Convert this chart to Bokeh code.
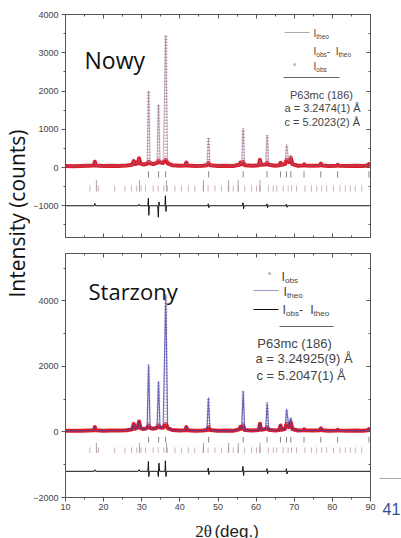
import math
from bokeh.plotting import figure
from bokeh.layouts import row, column
from bokeh.models import Label, FixedTicker, LinearAxis, Range1d
from bokeh.embed import file_html
from bokeh.resources import INLINE

# ---------------- data ----------------
x_ticks = [10, 20, 30, 40, 50, 60, 70, 80, 90]
x_minor = [15, 25, 35, 45, 55, 65, 75, 85]
top_y_ticks = [-1000, 0, 1000, 2000, 3000, 4000]
top_y_minor = [-1500, -500, 500, 1500, 2500, 3500]
bot_y_ticks = [-2000, 0, 2000, 4000]
bot_y_minor = [-1000, 1000, 3000, 5000]

# "Nowy": observed profile (background + weak reflections)
new_obs_x = [10, 12, 14, 16, 17.4, 17.7, 18.0, 20, 22, 24, 26, 27.5, 27.9, 28.3, 28.9, 29.3, 29.7,
             30.5, 31.4, 31.8, 32.2, 33.0, 34.0, 34.4, 34.8, 35.6, 36.3, 36.8, 38, 40, 41.4, 41.7, 42.0,
             44, 46, 47.1, 47.5, 47.9, 50, 52, 54, 55.6, 55.9, 56.2, 56.6, 57.0, 59, 60.7, 61.0, 61.3,
             62.5, 62.9, 63.3, 65, 66.1, 66.4, 66.7, 67.6, 68.0, 68.6, 69.1, 69.5, 71, 72.3, 72.6, 72.9,
             75, 76.7, 77.0, 77.3, 79, 81.1, 81.4, 81.7, 84, 86, 88, 89.3, 89.6, 90]
new_obs_y = [40, 35, 40, 45, 50, 150, 50, 40, 45, 40, 50, 70, 170, 90, 110, 240, 100,
             80, 100, 150, 110, 90, 120, 180, 130, 120, 200, 110, 60, 45, 50, 130, 50,
             40, 45, 60, 120, 60, 40, 45, 40, 70, 130, 90, 150, 60, 45, 60, 200, 70,
             80, 130, 70, 45, 60, 120, 70, 90, 200, 140, 250, 90, 45, 50, 80, 50,
             45, 55, 100, 55, 40, 45, 70, 45, 40, 45, 40, 50, 90, 50]
# strong reflections: position, foot, top
new_peak_x = [31.8, 34.4, 36.3, 47.5, 56.6, 62.9, 68.0, 69.1]
new_peak_base = [150, 180, 200, 120, 150, 130, 200, 250]
new_peak_top = [2000, 1650, 3450, 770, 1020, 850, 600, 330]
# difference curve
new_diff_x = [10, 17.5, 17.7, 17.9, 29.1, 29.3, 29.5, 31.6, 31.75, 31.85, 32.0, 34.2, 34.35, 34.5, 34.7,
              36.1, 36.2, 36.35, 36.5, 47.3, 47.45, 47.6, 47.75, 56.4, 56.55, 56.7, 56.85,
              62.7, 62.85, 63.0, 63.15, 67.8, 67.95, 68.1, 68.25, 90]
new_diff_y = [-1000, -1000, -940, -1000, -1000, -960, -1000, -1000, -800, -1250, -1000, -1000, -1300, -900, -1000,
              -1000, -740, -1150, -1000, -1000, -950, -1050, -1000, -1000, -920, -1080, -1000,
              -1000, -950, -1050, -1000, -1000, -960, -1040, -1000, -1000]

# "Starzony"
old_obs_x = [10, 12, 14, 16, 17.4, 17.7, 18.0, 20, 22, 24, 26, 27.5, 27.9, 28.3, 28.9, 29.3, 29.7,
             30.5, 31.4, 31.8, 32.2, 33.0, 34.0, 34.4, 34.8, 35.6, 36.3, 36.8, 38, 40, 41.4, 41.7, 42.0,
             44, 46, 47.1, 47.5, 47.9, 50, 52, 54, 55.6, 55.9, 56.2, 56.6, 57.0, 59, 60.7, 61.0, 61.3,
             62.5, 62.9, 63.3, 65, 66.1, 66.4, 66.7, 67.6, 68.0, 68.6, 69.1, 69.5, 71, 72.3, 72.6, 72.9,
             75, 76.7, 77.0, 77.3, 79, 81.1, 81.4, 81.7, 84, 86, 88, 89.3, 89.6, 90]
old_obs_y = [40, 35, 40, 45, 50, 150, 50, 40, 45, 45, 55, 80, 250, 100, 130, 320, 110,
             90, 120, 200, 120, 100, 130, 200, 140, 130, 250, 120, 60, 45, 55, 150, 55,
             40, 45, 60, 150, 60, 40, 45, 40, 80, 160, 100, 200, 60, 45, 60, 250, 70,
             90, 150, 70, 45, 60, 200, 70, 100, 250, 150, 300, 90, 45, 50, 80, 50,
             45, 55, 110, 55, 40, 45, 70, 45, 40, 45, 40, 50, 90, 50]
old_peak_x = [31.8, 34.4, 36.3, 47.5, 56.6, 62.9, 68.0, 69.1]
old_peak_base = [200, 200, 250, 150, 200, 150, 250, 300]
old_peak_top = [2050, 1550, 4200, 1050, 1260, 900, 710, 440]
old_diff_x = [10, 17.5, 17.7, 17.9, 29.1, 29.3, 29.5, 31.6, 31.75, 31.85, 32.0, 34.2, 34.35, 34.5, 34.7,
              36.1, 36.2, 36.35, 36.5, 47.3, 47.45, 47.6, 47.75, 56.4, 56.55, 56.7, 56.85,
              62.7, 62.85, 63.0, 63.15, 67.8, 67.95, 68.1, 68.25, 90]
old_diff_y = [-1200, -1200, -1150, -1200, -1200, -1150, -1200, -1200, -900, -1360, -1200, -1200, -1360, -950, -1200,
              -1200, -880, -1360, -1200, -1200, -1100, -1300, -1200, -1200, -1050, -1330, -1200,
              -1200, -1120, -1280, -1200, -1200, -1120, -1280, -1200, -1200]

# Bragg positions
zno_bragg = [31.77, 34.42, 36.25, 47.54, 56.60, 62.86, 66.38, 67.96, 69.10, 72.56, 76.95, 81.37, 89.60]
second_bragg = [16.4, 18.6, 22.9, 25.6, 27.3, 28.7, 29.8, 31.0, 33.0, 34.3, 35.8, 36.7, 38.7, 40.4, 42.2,
                43.9, 46.1, 47.4, 49.2, 50.9, 52.7, 54.0, 55.3, 57.0, 58.8, 60.1, 61.0, 63.2, 64.5, 65.4,
                67.1, 68.4, 69.3, 70.6, 72.8, 74.5, 75.9, 77.2, 78.5, 80.3, 82.0, 83.4, 84.7, 86.0, 87.7]
second_bragg_strong = [18.1, 29.4, 36.5, 46.2, 52.8, 55.3, 61.0]

new_cell = ["P63mc (186)", "a =  3.2474(1) Å", "c =  5.2023(2) Å"]
old_cell = ["P63mc (186)", "a =   3.24925(9) Å", "c =   5.2047(1) Å"]

# ---------------- helpers ----------------
AX = "#555555"
TXT = "#444444"
LABW = 30          # strip holding the shared y title
BL = 64 - LABW     # left border of the panels
BR = 8             # right border of the panels
PW = BL + 305 + BR
RW = 401 - LABW - PW   # strip on the right (page number)
TOP_BT = 14        # top border of the upper panel
BOT_BB = 20        # bottom border of the lower panel (tick labels)
XT_H = 538 - (TOP_BT + 223 + 8) - (8 + 244 + BOT_BB)


def conv_top(px, py):
    return 10 + (px - 64) / 3.8125, 4000 - (py - 16) * 5830 / 223


def conv_bot(px, py):
    return 10 + (px - 64) / 3.8125, 5450 - (py - 255) * 7450 / 244


CW = {'I': .278, ' ': .278, '-': .333, 't': .278, 's': .5}


def tw(t, s):
    return sum(CW.get(c, .556) for c in t) * s


def put(p, conv, px, py, text, size, color=TXT, align="left", font="Liberation Sans", baseline="middle"):
    x, y = conv(px, py)
    p.add_layout(Label(x=x, y=y, text=text, text_font_size=f"{size}px", text_color=color,
                       text_align=align, text_baseline=baseline, text_font=font))


def rich(p, conv, px, py, parts, size, color=TXT):
    cur = px
    for txt, sub in parts:
        s = round(size * 0.65, 1) if sub else size
        yy = py + (size * 0.3 if sub else 0)
        put(p, conv, cur, yy, txt, s, color)
        cur += tw(txt, s)


def hline(p, conv, px0, px1, py, color, width=1):
    x0, y = conv(px0, py)
    x1, _ = conv(px1, py)
    p.segment(x0=[x0], y0=[y], x1=[x1], y1=[y], line_color=color, line_width=width)


def set_axis(ax, ticks, minor, labels, tin, tout):
    ax.ticker = FixedTicker(ticks=ticks, minor_ticks=minor)
    ax.axis_line_color = AX
    ax.major_tick_line_color = AX
    ax.minor_tick_line_color = AX
    ax.major_tick_in = tin
    ax.major_tick_out = tout
    ax.minor_tick_in = 2 if tin else 0
    ax.minor_tick_out = 2 if tout else 0
    if labels:
        ax.major_label_text_font_size = "9px"
        ax.major_label_text_color = TXT
        ax.major_label_text_font = "Liberation Sans"
    else:
        ax.major_label_overrides = {t: "" for t in ticks}
        ax.major_label_text_font_size = "1px"
        ax.major_label_standoff = 0


def panel(y0, y1, fh, btop, bbot, yt, ym, x_labels):
    p = figure(frame_width=305, frame_height=fh, x_range=Range1d(10, 90), y_range=Range1d(y0, y1),
               output_backend="svg", toolbar_location=None, title=None,
               min_border_left=BL, min_border_right=BR, min_border_top=btop, min_border_bottom=bbot)
    p.grid.visible = False
    p.outline_line_color = AX
    set_axis(p.xaxis[0], x_ticks, x_minor, x_labels, 0 if x_labels else 4, 4 if x_labels else 0)
    if x_labels:
        p.xaxis[0].major_label_standoff = 2
    set_axis(p.yaxis[0], yt, ym, True, 0, 4)
    p.yaxis[0].major_label_standoff = 3
    top_ax = LinearAxis()
    set_axis(top_ax, x_ticks, x_minor, False, 4, 0)
    p.add_layout(top_ax, "above")
    right_ax = LinearAxis()
    set_axis(right_ax, yt, ym, False, 4, 0)
    p.add_layout(right_ax, "right")
    return p


def theo_profile(bx, by, pxs, pys):
    d = dict(zip(bx, by))
    d.update(zip(pxs, pys))
    xs = sorted(d)
    return xs, [d[k] for k in xs]


def draw_data(p, ox, oy, pkx, pkb, pkt, dx, dy, bragg_a, bragg_b, strong_b, ys, theo_col, theo_w, dot_col):
    ya, yb, ysg = ys
    n = len(bragg_a)
    p.segment(x0=bragg_a, y0=[ya[0]] * n, x1=bragg_a, y1=[ya[1]] * n, line_color="#666666", line_width=0.8)
    m = len(bragg_b)
    p.segment(x0=bragg_b, y0=[yb[0]] * m, x1=bragg_b, y1=[yb[1]] * m, line_color="#c29aa6", line_width=0.8)
    k = len(strong_b)
    p.segment(x0=strong_b, y0=[ysg[0]] * k, x1=strong_b, y1=[ysg[1]] * k, line_color="#9a8a90", line_width=0.8)
    p.line(dx, dy, line_color="#111111", line_width=1)
    p.line(ox, oy, line_color="#dd1c2a", line_width=4, line_join="round")
    tx, ty = theo_profile(ox, oy, pkx, pkt)
    p.segment(x0=pkx, y0=pkb, x1=pkx, y1=pkt, line_color=dot_col, line_width=3.5, line_dash="1 2",
              line_alpha=0.85)
    p.line(tx, ty, line_color=theo_col, line_width=theo_w, line_alpha=0.75)


# ---------------- top panel: Nowy ----------------
top = panel(-1830, 4000, 223, TOP_BT, 8, top_y_ticks, top_y_minor, False)
draw_data(top, new_obs_x, new_obs_y, new_peak_x, new_peak_base, new_peak_top, new_diff_x, new_diff_y,
          zno_bragg, second_bragg, second_bragg_strong, ((-100, -260), (-470, -630), (-330, -630)),
          "#8a7090", 0.7, "#c48aa6")
put(top, conv_top, 83, 61, "Nowy", 23, "#111111", font="Open Sans", baseline="alphabetic")
hline(top, conv_top, 283, 308, 34, "#aaaaaa")
rich(top, conv_top, 312, 35, [("I", False), ("theo", True)], 10)
rich(top, conv_top, 312, 53, [("I", False), ("obs", True), ("-  ", False), ("I", False), ("theo", True)], 10)
sx, sy = conv_top(293, 66)
top.scatter([sx], [sy], size=3, fill_color="#cbb8c6", line_color=None)
rich(top, conv_top, 312, 68, [("I", False), ("obs", True)], 10)
hline(top, conv_top, 282, 338, 79, "#666666")
put(top, conv_top, 320, 96, new_cell[0], 11, align="center")
put(top, conv_top, 283, 109, new_cell[1], 11)
put(top, conv_top, 283, 123, new_cell[2], 11)

# ---------------- bottom panel: Starzony ----------------
bot = panel(-2000, 5450, 244, 8, BOT_BB, bot_y_ticks, bot_y_minor, True)
draw_data(bot, old_obs_x, old_obs_y, old_peak_x, old_peak_base, old_peak_top, old_diff_x, old_diff_y,
          zno_bragg, second_bragg, second_bragg_strong, ((-150, -320), (-470, -640), (-330, -640)),
          "#4040a8", 1.2, "#b9a0cc")
put(bot, conv_bot, 87, 292, "Starzony", 22, "#111111", font="Open Sans", baseline="alphabetic")
sx, sy = conv_bot(268, 275)
bot.scatter([sx], [sy], size=3, fill_color="#c0b4cc", line_color=None)
rich(bot, conv_bot, 280, 278, [("I", False), ("obs", True)], 12.5)
hline(bot, conv_bot, 252, 277, 292, "#9a9ac8")
rich(bot, conv_bot, 282, 293, [("I", False), ("theo", True)], 12.5)
hline(bot, conv_bot, 252, 277, 311, "#111111")
rich(bot, conv_bot, 281, 311, [("I", False), ("obs", True), ("-  ", False), ("I", False), ("theo", True)], 12.5)
hline(bot, conv_bot, 278, 332, 328, "#666666")
put(bot, conv_bot, 293, 345, old_cell[0], 13, align="center")
put(bot, conv_bot, 254, 360, old_cell[1], 13)
put(bot, conv_bot, 255, 377, old_cell[2], 13)


def strip(w, h):
    f = figure(width=w, height=h, x_range=Range1d(0, w), y_range=Range1d(h, 0), title=None,
               output_backend="svg", toolbar_location=None, x_axis_type=None, y_axis_type=None,
               min_border=0)
    f.grid.visible = False
    f.outline_line_color = None
    return f


# ---------------- x title strip ----------------
xt = strip(PW, XT_H)
xt.add_layout(Label(x=178 - LABW, y=XT_H - 7, text="2θ", text_font="Liberation Serif", text_font_size="17px",
                    text_color="#222222", text_baseline="alphabetic"))
xt.add_layout(Label(x=200 - LABW, y=XT_H - 7, text="(deg.)", text_font="Liberation Sans", text_font_size="17px",
                    text_color="#222222", text_baseline="alphabetic"))

# ---------------- shared y title ----------------
lab = strip(LABW, 538)
lab.add_layout(Label(x=16, y=213, text="Intensity (counts)", angle=math.pi / 2, text_align="center",
                     text_baseline="middle", text_font_size="21px", text_font="Open Sans",
                     text_color="#111111"))

# ---------------- page number strip ----------------
rs = strip(RW, 538)
rs.add_layout(Label(x=381 - (LABW + PW), y=508, text="41", text_font="Liberation Sans", text_font_size="16px",
                    text_color="#2f5496", text_baseline="middle"))
rs.segment(x0=[378 - (LABW + PW)], y0=[478], x1=[RW], y1=[478], line_color="#aaaaaa", line_width=1)

layout = row(lab, column(top, bot, xt, spacing=0), rs, spacing=0)
open("out.html", "w").write(file_html(layout, INLINE))
